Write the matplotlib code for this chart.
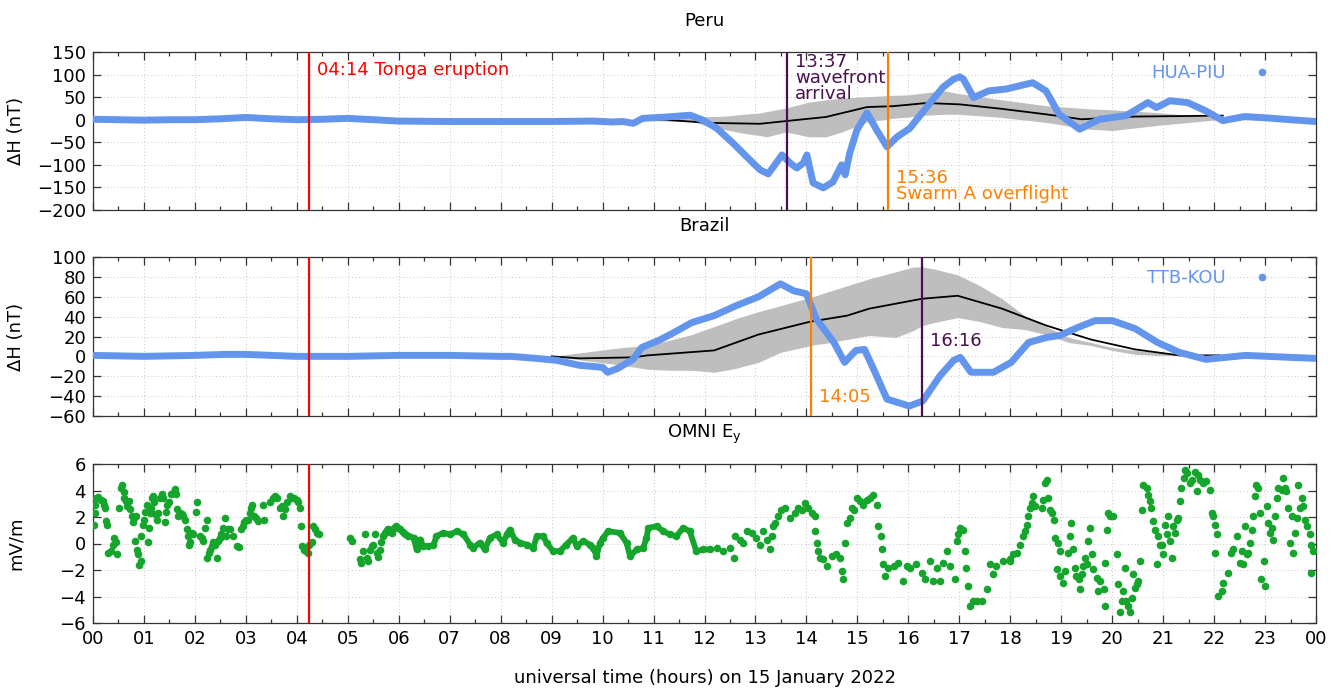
import numpy as np
import matplotlib
matplotlib.use("Agg")
import matplotlib.pyplot as plt
from matplotlib.lines import Line2D
from matplotlib.ticker import MultipleLocator

# ---- Peru (HUA-PIU) ----
peru_h = [0, 0.5, 1.0, 1.5, 2.0, 2.5, 3.0, 3.5, 4.0, 4.5, 5.0, 5.5, 6.0, 7.0, 8.0,
          9.0, 9.8, 10.2, 10.4, 10.6, 10.79, 11.26, 11.72, 11.97, 12.24, 12.56,
          12.89, 13.09, 13.25, 13.38, 13.52, 13.68, 13.81, 13.94, 14.01, 14.13,
          14.33, 14.52, 14.69, 14.76, 14.85, 14.99, 15.19, 15.38, 15.58, 15.78,
          16.03, 16.36, 16.68, 16.89, 17.01, 17.08, 17.28, 17.58, 17.92, 18.18,
          18.44, 18.7, 18.96, 19.36, 19.75, 20.27, 20.7, 20.87, 21.13, 21.48,
          21.83, 22.17, 22.6, 23.03, 23.5, 24.0]
peru_dh = [1, 0, -1, 0, 0, 2, 5, 2, 0, 1, 3, 0, -3, -4, -4,
           -4, -3, -5, -4, -8, 3, 6, 10, -1, -19, -52,
           -89, -111, -120, -100, -78, -96, -107, -96, -78, -140,
           -151, -138, -100, -122, -74, -23, 15, -23, -60, -38,
           -19, 28, 72, 90, 95, 90, 49, 64, 68, 75,
           82, 64, 12, -21, 1, 9, 38, 27, 42, 38,
           20, -2, 7, 4, 0, -4]

peru_mean_h = [10.8, 11.2, 12.1, 13.09, 13.6, 14.38, 15.19, 15.7, 16.36, 17.01,
               17.84, 18.7, 19.4, 20.44, 21.3, 22.17]
peru_mean = [0, 0, -7, -9, -3, 6, 28, 30, 37, 34, 24, 12, 1, 7, 8, 9]

peru_band_h = [10.8, 11.8, 12.1, 12.4, 12.76, 13.09, 13.22, 13.6, 14.05, 14.38, 14.7,
               15.19, 15.7, 16.0, 16.36, 16.7, 16.98, 17.84, 18.7, 19.56, 20.0,
               20.85, 21.7, 22.17]
peru_band_hi = [1, 6, 7, 8, 12, 15, 18, 26, 39, 44, 48, 51, 54, 55, 60, 64, 58, 44,
                31, 24, 22, 16, 8, 5]
peru_band_lo = [-1, -5, -16, -22, -30, -35, -38, -27, -38, -38, -27, -5, 3, 6, 10,
                12, 12, 5, -6, -21, -24, -13, -4, 1]

# ---- Brazil (TTB-KOU) ----
braz_h = [0, 1, 2, 2.6, 3, 4, 5, 6, 7, 8, 8.2, 8.7, 9.1, 9.55, 10.0, 10.1, 10.3,
          10.6, 10.77, 11.1, 11.4, 11.75, 12.19, 12.62, 13.06, 13.49, 13.75, 14.0,
          14.19, 14.54, 14.75, 14.97, 15.14, 15.32, 15.58, 16.02, 16.28, 16.63,
          16.89, 17.02, 17.23, 17.67, 18.02, 18.36, 18.71, 18.97, 19.32, 19.67,
          20.0, 20.45, 20.89, 21.32, 21.84, 22.62, 23.5, 24.0]
braz_dh = [1, 0, 1, 2, 2, 0, 0, 1, 1, 0, 0, -2, -4, -9, -11, -16, -12,
           -3, 9, 16, 24, 34, 41, 51, 60, 73, 66, 63,
           38, 14, -6, 6, 7, -13, -43, -50, -45, -19,
           -4, -1, -16, -16, -6, 14, 19, 21, 29, 36,
           36, 28, 14, 4, -3, 1, -1, -2]

braz_mean_h = [9.0, 9.55, 10.6, 10.88, 12.19, 13.06, 14.08, 14.8, 15.23, 16.27,
               16.97, 17.84, 18.71, 19.58, 20.45, 21.32, 22.1]
braz_mean = [0, -2, -1, 1, 6, 22, 35, 41, 48, 58, 61, 48, 31, 17, 7, 1, 1]

braz_band_h = [9.0, 10.4, 10.88, 11.3, 11.75, 12.19, 12.62, 13.06, 13.49, 14.19,
               14.36, 15.23, 15.75, 16.1, 16.28, 16.5, 16.97, 17.41, 17.84, 18.28,
               18.71, 19.15, 19.58, 20.0, 20.45, 20.9, 21.75, 22.1]
braz_band_hi = [0, 9, 11, 16, 22, 30, 38, 45, 51, 61, 64, 78, 85, 90, 90, 88, 82,
                71, 58, 41, 30, 19, 14, 9, 6, 4, 1, 0]
braz_band_lo = [0, -9, -13, -14, -14, -16, -12, -6, 4, 12, 13, 21, 19, 26, 31, 34,
                39, 35, 29, 27, 22, 14, 11, 6, 2, 1, 1, 0]

# ---- OMNI Ey, (hour, mV/m) ----
ey_early = [
    (0.02, 1.4), (0.03, 2.3), (0.04, 2.9), (0.06, 3.4), (0.10, 3.5), (0.15, 3.3),
    (0.19, 3.2), (0.22, 2.9), (0.24, 2.7), (0.26, 1.7), (0.27, 1.4), (0.30, -0.7),
    (0.35, -0.6), (0.40, -0.1), (0.41, 0.4), (0.46, 0.1), (0.48, -0.8), (0.52, 2.7),
    (0.54, 4.2), (0.56, 4.4), (0.60, 3.9), (0.61, 3.4), (0.65, 3.2), (0.67, 2.8),
    (0.71, 3.2), (0.73, 2.6), (0.76, 2.1), (0.78, 1.6), (0.80, 1.9), (0.82, 0.2),
    (0.84, 2.1), (0.86, -0.5), (0.89, -0.8), (0.91, -1.6), (0.94, -1.3), (0.95, 0.6),
    (0.99, 1.4), (1.00, 1.8), (1.02, 2.4), (1.05, 2.9), (1.07, 0.1), (1.09, 1.2),
    (1.11, 2.3), (1.13, 2.7), (1.15, 3.4), (1.17, 3.6), (1.20, 3.1), (1.22, 2.2),
    (1.25, 1.8), (1.28, 2.3), (1.31, 3.4), (1.35, 3.7), (1.38, 3.4), (1.41, 1.6),
    (1.43, 2.4), (1.46, 2.9), (1.50, 3.1), (1.54, 3.7), (1.58, 3.9), (1.61, 4.1),
    (1.63, 3.7), (1.65, 2.6), (1.67, 2.1), (1.71, 2.3), (1.74, 2.2), (1.77, 2.1),
    (1.81, 1.8), (1.84, 1.1), (1.87, 0.6), (1.89, -0.1), (1.90, 0.1), (1.94, 0.8),
    (1.97, 0.7), (2.02, 2.4), (2.05, 3.1), (2.10, 0.6), (2.13, 0.4), (2.16, 0.2),
    (2.20, 1.2), (2.23, 1.8), (2.24, -1.1), (2.27, -0.7), (2.30, -0.5), (2.33, -0.2),
    (2.36, 0.1), (2.39, -0.1), (2.43, -1.1), (2.46, 0.2), (2.49, 0.4), (2.52, 0.7),
    (2.56, 1.2), (2.59, 1.9), (2.61, 0.6), (2.64, 1.1), (2.69, 1.1), (2.75, 0.6),
    (2.82, -0.2), (2.87, -0.3), (2.90, 1.1), (2.94, 1.3), (2.96, 1.6), (3.00, 1.8),
    (3.05, 1.8), (3.08, 2.3), (3.11, 2.7), (3.13, 2.9), (3.16, 2.1), (3.20, 1.9),
    (3.24, 1.7), (3.34, 2.9), (3.36, 1.8), (3.47, 3.1), (3.53, 3.4), (3.57, 3.6),
    (3.62, 3.4), (3.66, 2.7), (3.70, 2.8), (3.73, 2.1), (3.77, 2.6), (3.80, 3.1),
    (3.87, 3.6), (3.90, 3.4), (3.94, 3.4), (4.00, 3.3), (4.03, 3.1), (4.06, 2.7),
    (4.09, 1.3), (4.11, -0.2), (4.14, -0.5), (4.18, -0.6), (4.21, -0.7), (4.24, -0.1),
    (4.29, 0.1), (4.32, 1.3), (4.36, 1.1), (4.39, 0.8), (4.44, 0.7),
    (5.04, 0.4), (5.08, 0.2), (5.23, -1.2), (5.25, -1.5), (5.29, -0.6), (5.34, 0.7),
    (5.37, -1.1), (5.40, -1.3), (5.43, -0.5), (5.47, -0.2), (5.50, -0.1), (5.53, 0.7),
    (5.57, -0.7), (5.60, -1.0), (5.63, -0.5), (5.66, 0.1),
]
# continuous 1-min trace through the quiet hours
ey_quiet = [
    (5.70, 0.6), (5.73, 0.8),
    (5.78, 1.1), (5.83, 0.9), (5.86, 0.8), (5.91, 1.2), (5.94, 1.3), (5.99, 1.2),
    (6.02, 1.1), (6.08, 0.9), (6.12, 0.7), (6.19, 0.6), (6.29, 0.43), (6.35, -0.45),
    (6.42, 0.3), (6.48, -0.2), (6.58, -0.2), (6.68, -0.13), (6.74, 0.55), (6.87, 0.8),
    (7.01, 0.68), (7.14, 0.93), (7.27, 0.68), (7.40, -0.08), (7.46, -0.33), (7.59, 0.05),
    (7.69, -0.45), (7.79, 0.43), (7.92, 0.68), (8.05, 0.05), (8.12, 0.68), (8.18, 1.05),
    (8.28, 0.3), (8.38, 0.05), (8.51, -0.08), (8.64, -0.33), (8.71, 0.55), (8.84, 0.55),
    (8.90, 0.05), (9.03, -0.58), (9.16, -0.58), (9.29, -0.08), (9.42, 0.43), (9.49, -0.2),
    (9.62, 0.18), (9.75, -0.08), (9.82, -0.33), (9.88, -0.95), (9.95, 0.05), (10.01, 0.43),
    (10.11, 0.93), (10.34, 0.8), (10.47, 0.05), (10.54, -0.95), (10.67, -0.45),
    (10.80, -0.33), (10.86, 0.43), (10.90, 1.18), (11.06, 1.3), (11.19, 0.93),
    (11.32, 0.68), (11.45, 0.55), (11.58, 1.18), (11.71, 0.93), (11.84, -0.58),
    (11.98, -0.45), (12.11, -0.45),
]
ey_main = [
    (12.24, -0.33), (12.37, -0.58), (12.50, -0.33), (12.57, -1.08), (12.60, 0.55),
    (12.70, 0.3), (12.76, 0.05), (12.83, 0.93), (12.93, 0.8), (13.02, 0.43),
    (13.09, -0.08), (13.15, 0.93), (13.22, 0.3), (13.29, -0.45), (13.32, 0.55),
    (13.35, 1.3), (13.38, 1.55), (13.45, 2.05), (13.51, 2.55), (13.58, 2.68),
    (13.68, 1.93), (13.78, 2.3), (13.84, 2.68), (13.91, 2.55), (13.97, 3.05),
    (14.04, 2.68), (14.10, 2.3), (14.17, 2.05), (14.17, 0.93), (14.20, 0.05),
    (14.23, -0.58), (14.27, -1.08), (14.33, -1.2), (14.40, -1.7), (14.50, -0.95),
    (14.59, -0.83), (14.66, -1.08), (14.69, -2.08), (14.72, -2.7), (14.76, 0.05),
    (14.79, 1.55), (14.85, 1.93), (14.89, 2.68), (14.93, 2.55), (14.99, 3.43),
    (15.05, 3.18), (15.12, 2.93), (15.18, 3.3), (15.25, 3.43), (15.31, 3.68),
    (15.38, 2.93), (15.41, 1.3), (15.46, 0.55), (15.48, -0.45), (15.51, -1.58),
    (15.54, -2.45), (15.61, -1.83), (15.71, -1.7), (15.80, -1.45), (15.90, -2.83),
    (15.97, -1.7), (16.03, -1.83), (16.16, -1.58), (16.26, -2.2), (16.33, -2.7),
    (16.42, -1.33), (16.49, -2.83), (16.56, -1.83), (16.62, -2.83), (16.69, -1.45),
    (16.75, -0.58), (16.82, -1.7), (16.92, -2.7), (16.95, 0.18), (16.98, 0.68),
    (17.01, 1.18), (17.08, 1.05), (17.11, -0.58), (17.14, -1.83), (17.18, -3.2),
    (17.21, -4.7), (17.27, -4.33), (17.34, -4.33), (17.44, -4.33), (17.54, -3.45),
    (17.60, -1.58), (17.67, -2.33), (17.73, -1.7), (17.86, -1.33), (17.99, -1.2),
]
ey_late = [
    (18.00, -1.33), (18.06, -0.83), (18.13, -0.7), (18.19, -0.08), (18.26, 0.55),
    (18.29, 0.93), (18.32, 1.43), (18.35, 2.05), (18.39, 2.68), (18.42, 3.05),
    (18.45, 3.55), (18.49, 2.8), (18.62, 2.68), (18.65, 3.3), (18.68, 4.55),
    (18.72, 4.8), (18.75, 3.43), (18.78, 2.55), (18.81, 2.3), (18.85, 1.8),
    (18.88, 0.43), (18.94, 0.05), (18.98, -0.58), (18.91, -1.95), (18.98, -2.45),
    (19.04, -2.95), (19.07, -2.08), (19.14, -0.7), (19.17, 0.55), (19.20, 1.55),
    (19.24, -0.45), (19.27, -1.83), (19.30, -2.45), (19.34, -2.7), (19.37, -3.45),
    (19.40, -2.33), (19.43, -1.7), (19.47, -1.08), (19.50, -1.58), (19.53, 0.18),
    (19.57, 1.18), (19.60, -0.83), (19.63, -1.95), (19.70, -2.58), (19.73, -3.58),
    (19.76, -2.83), (19.83, -3.45), (19.85, -4.7), (19.86, -1.45), (19.89, 1.05),
    (19.92, 2.3), (19.96, 2.05), (20.02, 2.05), (20.09, -0.83), (20.12, -3.08),
    (20.15, -5.2), (20.19, -4.33), (20.22, -3.58), (20.25, -1.83), (20.28, -4.33),
    (20.32, -4.7), (20.35, -5.2), (20.38, -4.08), (20.41, -2.33), (20.45, -3.33),
    (20.48, -3.08), (20.51, -2.83), (20.55, -1.33), (20.58, 2.55), (20.61, 4.43),
    (20.68, 4.18), (20.71, 3.68), (20.74, 3.18), (20.77, 2.68), (20.81, 1.68),
    (20.84, 1.05), (20.87, -1.58), (20.90, 0.55), (20.94, -0.08), (20.97, -0.08),
    (21.00, -0.83), (21.04, 1.43), (21.07, 0.68), (21.10, 2.05), (21.13, 0.18),
    (21.17, -1.08), (21.20, 1.3), (21.23, 0.8), (21.27, 1.8), (21.30, 1.93),
    (21.33, 3.18), (21.36, 4.18), (21.40, 4.93), (21.43, 5.55), (21.46, 5.3),
    (21.53, 4.55), (21.56, 4.8), (21.62, 5.43), (21.66, 3.93), (21.69, 5.18),
    (21.72, 4.8), (21.79, 4.55), (21.85, 4.68), (21.92, 4.05), (21.95, 2.3),
    (21.98, 2.05), (22.02, 1.43), (22.05, 0.68), (22.02, -0.7), (22.08, -3.95),
    (22.15, -3.58), (22.18, -2.95), (22.28, -2.2), (22.34, -0.7), (22.38, -0.45),
    (22.44, 0.55), (22.51, -1.45), (22.54, -0.58), (22.57, -1.58), (22.61, 1.3),
    (22.64, -0.83), (22.67, -0.7), (22.70, 0.05), (22.74, 1.05), (22.77, 2.05),
    (22.80, 3.55), (22.83, 4.43), (22.87, 4.18), (22.90, 2.3), (22.93, -2.7),
    (22.97, -1.33), (23.00, -3.2), (23.03, 2.8), (23.06, 1.55), (23.10, 0.8),
    (23.13, 1.18), (23.16, 0.3), (23.19, 2.05), (23.23, 3.43), (23.26, 4.18),
    (23.33, 4.05), (23.36, 4.93), (23.39, 4.18), (23.42, 3.93), (23.46, 2.68),
    (23.49, 0.05), (23.52, 2.05), (23.55, -0.7), (23.59, 0.8), (23.62, 1.93),
    (23.65, 4.43), (23.69, 2.68), (23.72, 3.43), (23.75, 2.8), (23.78, 1.8),
    (23.82, 1.3), (23.88, 0.68), (23.91, -0.08), (23.95, -0.58), (23.91, -2.2),
]

hour_labels = ["%02d" % (h % 24) for h in range(25)]

BLUE = "#6495ed"
GREY = "#bebebe"
GREEN = "#15a52c"
RED = "#ff0000"
ORANGE = "#ff8000"
PURPLE = "#4a0f50"
FS = 13

plt.rcParams["font.family"] = "DejaVu Sans"
plt.rcParams["font.size"] = FS

fig = plt.figure(figsize=(13.38, 6.92), dpi=100)
L, W = 93 / 1338, 1223 / 1338
ax1 = fig.add_axes([L, 1 - 210 / 692, W, 158 / 692])
ax2 = fig.add_axes([L, 1 - 416 / 692, W, 159 / 692])
ax3 = fig.add_axes([L, 1 - 623 / 692, W, 159 / 692])


def style(ax, ylim, ystep, title, ylabel, labels=False):
    ax.set_xlim(0, 24)
    ax.set_ylim(*ylim)
    ax.xaxis.set_major_locator(MultipleLocator(1))
    ax.xaxis.set_minor_locator(MultipleLocator(0.5))
    ax.yaxis.set_major_locator(MultipleLocator(ystep))
    ax.tick_params(which="both", direction="in", top=True, right=True,
                   colors="#333333", labelcolor="black", labelsize=FS)
    ax.tick_params(which="major", length=6, width=0.9, pad=5)
    ax.tick_params(which="minor", length=3, width=0.9)
    ax.grid(which="major", linestyle=(0, (1, 2.5)), color="#c8c8c8", linewidth=0.7)
    ax.set_axisbelow(True)
    for s in ax.spines.values():
        s.set_color("#333333")
        s.set_linewidth(0.9)
    ax.set_title(title, fontsize=FS, pad=19)
    ax.set_ylabel(ylabel, fontsize=FS)
    ax.yaxis.set_label_coords(-0.056, 0.5)
    if labels:
        ax.set_xticks(range(25))
        ax.set_xticklabels(hour_labels)
    else:
        ax.set_xticklabels([])


def legend(ax, name):
    h = Line2D([], [], marker="o", ls="", color=BLUE, markersize=4.5)
    ax.legend([h], [name], loc="upper right", frameon=False, markerfirst=False,
              labelcolor=BLUE, fontsize=FS, handlelength=2.4, handletextpad=0.8,
              bbox_to_anchor=(0.984, 1.005), borderaxespad=0.3)


# Peru
style(ax1, (-200, 150), 50, "Peru", "ΔH (nT)")
ax1.fill_between(peru_band_h, peru_band_lo, peru_band_hi, color=GREY, lw=0, zorder=1)
ax1.plot(peru_mean_h, peru_mean, color="black", lw=1.3, zorder=2)
ax1.plot(peru_h, peru_dh, color=BLUE, lw=5, solid_capstyle="round",
         solid_joinstyle="round", zorder=3)
ax1.axvline(4 + 14 / 60, color=RED, lw=1.6, zorder=4)
ax1.axvline(13 + 37 / 60, color=PURPLE, lw=1.6, zorder=4)
ax1.axvline(15 + 36 / 60, color=ORANGE, lw=1.6, zorder=4)
ax1.text(4.39, 110, "04:14 Tonga eruption", color=RED, va="center", fontsize=FS)
ax1.text(13.78, 147, "13:37\nwavefront\narrival", color=PURPLE, va="top",
         fontsize=FS, linespacing=0.85)
ax1.text(15.76, -147, "15:36\nSwarm A overflight", color=ORANGE, va="center",
         fontsize=FS, linespacing=0.85)
legend(ax1, "HUA-PIU")

# Brazil
style(ax2, (-60, 100), 20, "Brazil", "ΔH (nT)")
ax2.fill_between(braz_band_h, braz_band_lo, braz_band_hi, color=GREY, lw=0, zorder=1)
ax2.plot(braz_mean_h, braz_mean, color="black", lw=1.3, zorder=2)
ax2.plot(braz_h, braz_dh, color=BLUE, lw=5, solid_capstyle="round",
         solid_joinstyle="round", zorder=3)
ax2.axvline(4 + 14 / 60, color=RED, lw=1.6, zorder=4)
ax2.axvline(14 + 5 / 60, color=ORANGE, lw=1.6, zorder=4)
ax2.axvline(16 + 16 / 60, color=PURPLE, lw=1.6, zorder=4)
ax2.text(14.25, -41, "14:05", color=ORANGE, va="center", fontsize=FS)
ax2.text(16.42, 15, "16:16", color=PURPLE, va="center", fontsize=FS)
legend(ax2, "TTB-KOU")

# OMNI Ey
style(ax3, (-6, 6), 2, r"OMNI E$_\mathregular{y}$", "mV/m", labels=True)
qh, qv = zip(*ey_quiet)
ax3.plot(qh, qv, color=GREEN, lw=4.2, solid_capstyle="round",
         solid_joinstyle="round", zorder=3)
ey_h, ey_v = zip(*(ey_early + ey_quiet + ey_main + ey_late))
ax3.scatter(ey_h, ey_v, s=30, color=GREEN, lw=0, zorder=3)
ax3.axvline(4 + 14 / 60, color=RED, lw=1.6, zorder=4)
ax3.set_xlabel("universal time (hours) on 15 January 2022", fontsize=FS, labelpad=15)

fig.savefig("out.png", dpi=100)
